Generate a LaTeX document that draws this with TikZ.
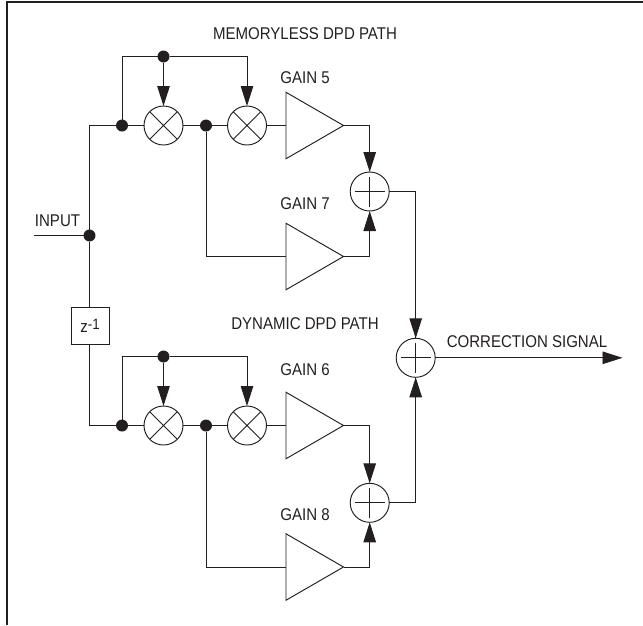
\documentclass[tikz,border=0pt]{standalone}
\usepackage{fontspec}
\newfontfamily\labelfont[FakeStretch=0.885]{Liberation Sans}
\usetikzlibrary{shapes.geometric, arrows.meta, positioning}
\definecolor{inkline}{HTML}{231F20}
\tikzset{
  mixer/.style={circle, draw=inkline, line width=0.95pt, fill=white, minimum size=39pt, inner sep=0pt, outer sep=0pt,
                path picture={\draw[inkline, line width=0.95pt] (path picture bounding box.north west) -- (path picture bounding box.south east)
                                     (path picture bounding box.north east) -- (path picture bounding box.south west);}},
  adder/.style={circle, draw=inkline, line width=0.95pt, fill=white, minimum size=39pt, inner sep=0pt, outer sep=0pt,
                path picture={\draw[inkline, line width=0.95pt, shift={(path picture bounding box.center)}] (-15pt,0pt) -- (15pt,0pt) (0pt,-15pt) -- (0pt,15pt);}},
  gainamp/.style={isosceles triangle, isosceles triangle apex angle=60, isosceles triangle stretches, draw=inkline, line width=0.95pt, fill=white,
                  minimum width=66.5pt, minimum height=57.5pt, inner sep=0pt, outer sep=0pt, anchor=lower side},
  joint/.style={circle, fill=inkline, minimum size=12pt, inner sep=0pt, outer sep=0pt},
  delaybox/.style={rectangle, draw=inkline, line width=0.95pt, minimum width=38pt, minimum height=36.5pt, inner sep=0pt, outer sep=0pt, labeltxt},
  labeltxt/.style={font=\labelfont\fontsize{17}{17}\selectfont, text=inkline, inner sep=0pt},
  wire/.style={draw=inkline, line width=0.95pt},
  arrow/.style={wire, -{Triangle[length=20pt, width=12.5pt]}},
}
\begin{document}
\begin{tikzpicture}[x=1pt, y=-1pt]
  \useasboundingbox (0,0) rectangle (643,625);
  \coordinate (frame_bl) at (6.7,625);
  \coordinate (frame_tl) at (6.7,1.5);
  \coordinate (frame_tr) at (643,1.5);
  \draw[inkline, line width=2pt] (frame_bl) -- (frame_tl) -- (frame_tr);

  % input and delay
  \node[joint] (in_dot) at (89.5,235.5) {};
  \coordinate (in_start) at (34,235.5);
  \node[labeltxt] (in_lbl) at (57.5,221) {INPUT};
  \node[delaybox] (delay) at (90,325.75) {\raisebox{-2pt}{z\raisebox{3.5pt}{\fontsize{15}{15}\selectfont -1}}};
  \coordinate (up_turn) at (89.5,125.5);
  \coordinate (lo_turn) at (89.5,425.5);

  % upper path
  \node[joint, right=26.5pt of up_turn] (up_a) {};
  \node[mixer, right=16pt of up_a]      (up_m1) {};
  \node[joint, right=17pt of up_m1]     (up_b) {};
  \node[mixer, right=15.5pt of up_b]    (up_m2) {};
  \node[joint, above=43.5pt of up_m1]   (up_top) {};
  \node[gainamp] (gain5) at (286,125.5) {};
  \node[gainamp] (gain7) at (286,256.5) {};
  \node[adder]   (up_sum) at (369.7,191.5) {};

  % lower path
  \node[joint, right=26.5pt of lo_turn] (lo_a) {};
  \node[mixer, right=16pt of lo_a]      (lo_m1) {};
  \node[joint, right=17pt of lo_m1]     (lo_b) {};
  \node[mixer, right=15.5pt of lo_b]    (lo_m2) {};
  \node[joint, above=43.5pt of lo_m1]   (lo_top) {};
  \node[gainamp] (gain6) at (286,425.5) {};
  \node[gainamp] (gain8) at (286,567) {};
  \node[adder]   (lo_sum) at (369.7,502.8) {};

  \node[adder] (out_sum) at (415.7,357.8) {};
  \coordinate (out_end) at (622.5,357.8);

  % labels
  \node[labeltxt] (mem_lbl) at (305,34) {MEMORYLESS DPD PATH};
  \node[labeltxt] (dyn_lbl) at (305,324) {DYNAMIC DPD PATH};
  \node[labeltxt] (g5_lbl) at (305,78) {GAIN 5};
  \node[labeltxt] (g7_lbl) at (305,204) {GAIN 7};
  \node[labeltxt] (g6_lbl) at (305,370) {GAIN 6};
  \node[labeltxt] (g8_lbl) at (305,515) {GAIN 8};
  \node[labeltxt] (out_lbl) at (527,342) {CORRECTION SIGNAL};

  % connectors
  \draw[wire] (in_start) -- (in_dot);
  \draw[wire] (delay.north -| in_dot) -- (in_dot) -- (up_turn) -- (up_a);
  \draw[wire] (delay.south -| in_dot) -- (lo_turn) -- (lo_a);

  \draw[wire] (up_a) -- (up_m1);
  \draw[wire] (up_m1) -- (up_b);
  \draw[wire] (up_b) -- (up_m2);
  \draw[wire] (up_m2) -- (gain5.lower side);
  \draw[wire] (up_a) |- (up_top);
  \draw[arrow] (up_top) -- (up_m1);
  \draw[arrow] (up_top) -| (up_m2);
  \draw[wire] (up_b) |- (gain7.lower side);
  \draw[arrow] (gain5.apex) -| (up_sum);
  \draw[arrow] (gain7.apex) -| (up_sum);
  \draw[wire] (up_sum) -| (out_sum.north);

  \draw[wire] (lo_a) -- (lo_m1);
  \draw[wire] (lo_m1) -- (lo_b);
  \draw[wire] (lo_b) -- (lo_m2);
  \draw[wire] (lo_m2) -- (gain6.lower side);
  \draw[wire] (lo_a) |- (lo_top);
  \draw[arrow] (lo_top) -- (lo_m1);
  \draw[arrow] (lo_top) -| (lo_m2);
  \draw[wire] (lo_b) |- (gain8.lower side);
  \draw[arrow] (gain6.apex) -| (lo_sum);
  \draw[arrow] (gain8.apex) -| (lo_sum);
  \draw[wire] (lo_sum) -| (out_sum.south);

  \draw[arrow] (up_sum.east -| out_sum) -- (out_sum);
  \draw[arrow] (lo_sum.east -| out_sum) -- (out_sum);
  \draw[arrow] (out_sum) -- (out_end);
\end{tikzpicture}
\end{document}
